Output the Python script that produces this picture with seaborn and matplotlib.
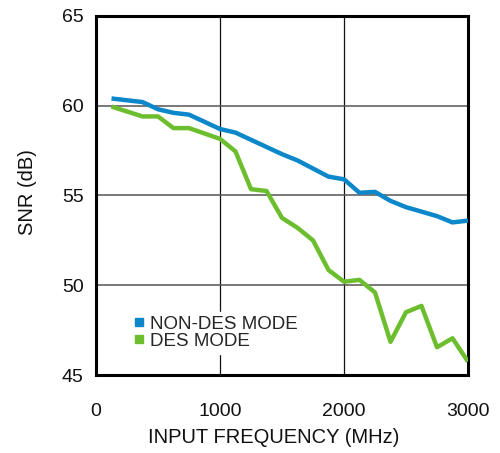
import matplotlib
matplotlib.use("Agg")
import matplotlib.pyplot as plt
from matplotlib.lines import Line2D
import seaborn as sns
import pandas as pd

# Input frequency sweep (MHz)
freq_non_des = [125, 375, 500, 625, 750, 875, 1000, 1125, 1250, 1375, 1500, 1625,
                1750, 1875, 2000, 2125, 2250, 2375, 2500, 2625, 2750, 2875, 3000]
snr_non_des = [60.4, 60.2, 59.8, 59.6, 59.5, 59.1, 58.7, 58.5, 58.1, 57.7, 57.3, 56.95,
               56.5, 56.05, 55.9, 55.15, 55.2, 54.7, 54.35, 54.1, 53.85, 53.5, 53.6]

freq_des = [125, 375, 500, 625, 750, 1000, 1125, 1250, 1375, 1500, 1625,
            1750, 1875, 2000, 2125, 2250, 2375, 2500, 2625, 2750, 2875, 3000]
snr_des = [59.95, 59.4, 59.4, 58.75, 58.75, 58.15, 57.45, 55.35, 55.25, 53.75, 53.2,
           52.5, 50.85, 50.2, 50.3, 49.6, 46.85, 48.5, 48.85, 46.55, 47.05, 45.75]

series_labels = ["NON-DES MODE", "DES MODE"]
x_ticks = [0, 1000, 2000, 3000]
y_ticks = [45, 50, 55, 60, 65]

BLUE = "#0C87C9"
GREEN = "#6DBE2F"

sns.set_style("white")
plt.rcParams["font.family"] = ["Liberation Sans", "DejaVu Sans"]

fig = plt.figure(figsize=(5.0, 4.53), dpi=100)
ax = fig.add_axes([0.192, 0.172, 0.744, 0.793])

df_a = pd.DataFrame({"freq": freq_non_des, "snr": snr_non_des})
df_b = pd.DataFrame({"freq": freq_des, "snr": snr_des})
sns.lineplot(data=df_a, x="freq", y="snr", ax=ax, color=BLUE, linewidth=3.2,
             solid_capstyle="butt", zorder=3)
sns.lineplot(data=df_b, x="freq", y="snr", ax=ax, color=GREEN, linewidth=3.2,
             solid_capstyle="butt", zorder=3)

ax.set_xlim(0, 3000)
ax.set_ylim(45, 65)
ax.set_xticks(x_ticks)
ax.set_yticks(y_ticks)
ax.set_xticklabels([str(v) for v in x_ticks])
ax.set_yticklabels([str(v) for v in y_ticks])

ax.grid(False)
for v in x_ticks[1:-1]:
    ax.axvline(v, color="#111111", linewidth=0.9, zorder=1)
for v in y_ticks[1:-1]:
    ax.axhline(v, color="#555555", linewidth=1.1, zorder=1)

for sp in ax.spines.values():
    sp.set_visible(True)
    sp.set_color("black")
    sp.set_linewidth(2.2)

ax.tick_params(axis="both", direction="in", length=4, width=1, colors="black",
               labelsize=14, labelcolor="#111111")
ax.tick_params(axis="x", pad=20)
ax.tick_params(axis="y", pad=9)

ax.set_xlabel("INPUT FREQUENCY (MHz)", fontsize=14.5, color="#111111")
ax.set_ylabel("SNR (dB)", fontsize=14.5, color="#111111")
ax.xaxis.set_label_coords(0.478, -0.148)
ax.yaxis.set_label_coords(-0.158, 0.51)

handles = [
    Line2D([], [], linestyle="none", marker="s", markersize=5.5,
           markerfacecolor=BLUE, markeredgecolor=BLUE),
    Line2D([], [], linestyle="none", marker="s", markersize=5.5,
           markerfacecolor=GREEN, markeredgecolor=GREEN),
]
leg = ax.legend(handles, series_labels, loc="lower left",
                bbox_to_anchor=(0.09, 0.06), fontsize=13.5, frameon=True,
                facecolor="white", edgecolor="white", framealpha=1.0,
                handlelength=0.6, handletextpad=0.3, labelspacing=0.0,
                borderpad=0.2, borderaxespad=0.0)
leg.set_zorder(5)

fig.savefig("out.png", dpi=100, facecolor="white")
